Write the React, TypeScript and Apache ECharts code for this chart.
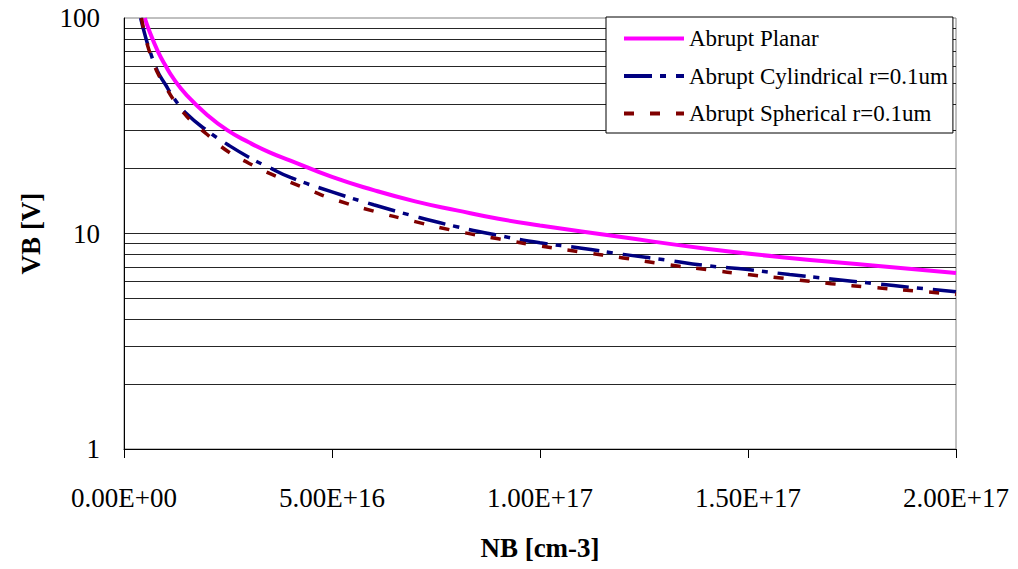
import React, { useEffect, useRef } from "react";
import * as echarts from "echarts";

const planarNB = [5e15, 6e15, 8e15, 1e16, 1.2e16, 1.5e16, 2e16, 2.5e16, 3e16, 3.5e16, 4e16, 5e16, 6e16, 7e16, 8e16, 9e16, 1e17, 1.2e17, 1.4e17, 1.6e17, 1.8e17, 2e17];
const planarVB = [100, 88, 71, 60, 52, 44, 35.5, 30, 26.5, 23.8, 21.8, 18.3, 15.9, 14.1, 12.8, 11.7, 10.9, 9.6, 8.5, 7.7, 7.1, 6.55];

const cylNB = [4e15, 5e15, 6e15, 8e15, 1e16, 1.2e16, 1.5e16, 2e16, 2.5e16, 3e16, 3.5e16, 4e16, 5e16, 6e16, 7e16, 8e16, 9e16, 1e17, 1.1e17, 1.2e17, 1.3e17, 1.4e17, 1.5e17, 1.6e17, 1.7e17, 1.8e17, 1.9e17, 2e17];
const cylVB = [100, 84, 72.5, 57, 49, 42.5, 36, 30, 25.8, 22.6, 20.2, 18.2, 15.6, 13.6, 12.0, 10.75, 9.8, 9.05, 8.55, 8.0, 7.55, 7.1, 6.8, 6.45, 6.15, 5.87, 5.6, 5.37];

const sphNB = [4.2e15, 5e15, 6e15, 7e15, 8e15, 1e16, 1.2e16, 1.4e16, 1.6e16, 2e16, 2.5e16, 3e16, 3.5e16, 4e16, 4.5e16, 5e16, 6e16, 7e16, 8e16, 9e16, 1e17, 1.1e17, 1.2e17, 1.3e17, 1.4e17, 1.5e17, 1.6e17, 1.7e17, 1.8e17, 1.9e17, 2e17];
const sphVB = [100, 84, 71, 63, 56, 48, 41.5, 37, 33.5, 28.8, 24, 21.2, 19, 17.3, 15.8, 14.5, 12.7, 11.35, 10.25, 9.45, 8.75, 8.2, 7.7, 7.2, 6.8, 6.45, 6.15, 5.85, 5.62, 5.42, 5.22];

const seriesNames = ["Abrupt Planar", "Abrupt Cylindrical r=0.1um", "Abrupt Spherical r=0.1um"];
const gridValues = [2, 3, 4, 5, 6, 7, 8, 9, 10, 20, 30, 40, 50, 60, 70, 80, 90];
const xTicks = [0, 5e16, 1e17, 1.5e17, 2e17];

const FONT = "Liberation Serif";

function fmtSci(v: number): string {
  if (v === 0) return "0.00E+00";
  const e = Math.floor(Math.log10(v) + 1e-9);
  const m = v / Math.pow(10, e);
  return m.toFixed(2) + "E+" + String(e).padStart(2, "0");
}

function pairs(xs: number[], ys: number[]) {
  return xs.map((x, i) => [x, ys[i]]);
}

export default function App() {
  const ref = useRef<HTMLDivElement>(null);
  useEffect(() => {
    if (!ref.current) return;
    const chart = echarts.init(ref.current, undefined, { renderer: "svg" });
    chart.setOption({
      animation: false,
      backgroundColor: "#fff",
      textStyle: { fontFamily: FONT },
      grid: {
        left: 124,
        right: 62,
        top: 18,
        bottom: 120,
        outerBoundsMode: "none",
        containLabel: false,
        show: true,
        borderColor: "#808080",
        borderWidth: 1,
        backgroundColor: "transparent",
      },
      legend: {
        orient: "vertical",
        left: 606,
        top: 17,
        padding: [10, 5, 8, 16],
        backgroundColor: "#fff",
        borderColor: "#000",
        borderWidth: 1,
        itemWidth: 60,
        itemHeight: 22,
        itemGap: 14.5,
        itemStyle: { opacity: 0 },
        lineStyle: { width: 4 },
        textStyle: { fontFamily: FONT, fontSize: 23, color: "#000" },
        data: seriesNames,
      },
      xAxis: {
        type: "value",
        min: 0,
        max: 2e17,
        interval: 5e16,
        name: "NB [cm-3]",
        nameLocation: "middle",
        nameGap: 85,
        nameTextStyle: { fontFamily: FONT, fontSize: 27, fontWeight: "bold", color: "#000" },
        axisLine: { show: true, lineStyle: { color: "#000", width: 1 } },
        axisTick: { show: true, length: 9, lineStyle: { color: "#000" } },
        axisLabel: {
          fontFamily: FONT,
          fontSize: 27,
          color: "#000",
          margin: 35,
          formatter: (v: number) => fmtSci(v),
          customValues: xTicks,
        },
        splitLine: { show: false },
      },
      yAxis: {
        type: "log",
        logBase: 10,
        min: 1,
        max: 100,
        name: "VB [V]",
        nameLocation: "middle",
        nameGap: 80,
        nameRotate: 90,
        nameTextStyle: { fontFamily: FONT, fontSize: 27, fontWeight: "bold", color: "#000" },
        axisLine: { show: true, lineStyle: { color: "#000", width: 1 } },
        axisTick: { show: false },
        axisLabel: { fontFamily: FONT, fontSize: 27, color: "#000", margin: 24 },
        splitLine: { show: false },
      },
      series: [
        {
          name: seriesNames[0],
          type: "line",
          data: pairs(planarNB, planarVB),
          smooth: true,
          symbol: "none",
          lineStyle: { color: "#FF00FF", width: 4 },
          itemStyle: { color: "#FF00FF" },
          z: 3,
          markLine: {
            silent: true,
            symbol: "none",
            label: { show: false },
            lineStyle: { color: "#000", width: 1, type: "solid", opacity: 0.85 },
            emphasis: { disabled: true },
            data: gridValues.map((v) => ({ yAxis: v })),
            z: 1,
          },
        },
        {
          name: seriesNames[1],
          type: "line",
          data: pairs(cylNB, cylVB),
          smooth: true,
          symbol: "none",
          lineStyle: { color: "#000080", width: 3.5, type: [28, 8, 6, 10] },
          itemStyle: { color: "#000080" },
          z: 4,
        },
        {
          name: seriesNames[2],
          type: "line",
          data: pairs(sphNB, sphVB),
          smooth: true,
          symbol: "none",
          lineStyle: { color: "#800000", width: 3.5, type: [10, 16] },
          itemStyle: { color: "#800000" },
          z: 5,
        },
      ],
    });
    return () => chart.dispose();
  }, []);
  return (
    <div
      ref={ref}
      style={{ position: "fixed", left: 0, top: 0, width: 1018, height: 569, background: "#fff" }}
    />
  );
}
